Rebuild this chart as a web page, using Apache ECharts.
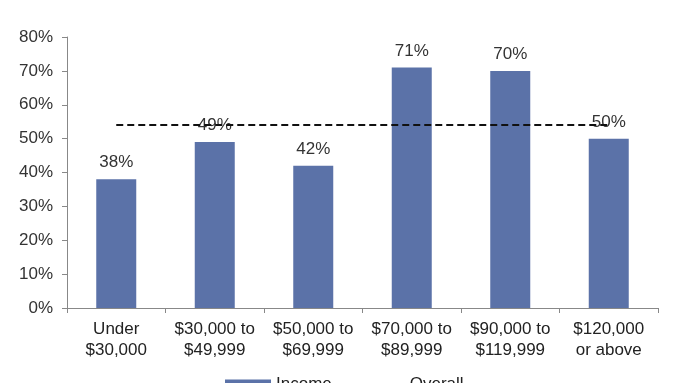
<!DOCTYPE html>
<html><head><meta charset="utf-8">
<script src="https://cdn.jsdelivr.net/npm/echarts@6/dist/echarts.min.js"></script>
<style>html,body{margin:0;padding:0;background:#fff}#c{width:681px;height:383px}</style>
</head><body><div id="c"></div>
<script>
const categories = ['Under\n$30,000', '$30,000 to\n$49,999', '$50,000 to\n$69,999', '$70,000 to\n$89,999', '$90,000 to\n$119,999', '$120,000\nor above'];
const incomeValues = [38, 49, 42, 71, 70, 50];
const overallValue = 54;
const overallValues = categories.map(() => overallValue);
const yTicks = [0, 10, 20, 30, 40, 50, 60, 70, 80];

const chart = echarts.init(document.getElementById('c'), null, {renderer: 'canvas'});
const font = 'Liberation Sans, Arial, sans-serif';
chart.setOption({
  animation: false,
  backgroundColor: '#fff',
  grid: {left: 67, right: 23, top: 37, bottom: 75},
  legend: {
    bottom: -15, left: 220, itemGap: 27, itemWidth: 46, itemHeight: 10,
    textStyle: {fontFamily: font, fontSize: 17, color: '#222'},
    data: [
      {name: 'Income', icon: 'rect'},
      {name: 'Overall', icon: 'rect', itemStyle: {opacity: 0}, lineStyle: {opacity: 0}}
    ]
  },
  xAxis: {
    type: 'category', data: categories,
    axisLine: {lineStyle: {color: '#888', width: 1}},
    axisTick: {show: true, length: 5, lineStyle: {color: '#888'}},
    axisLabel: {fontFamily: font, fontSize: 17, color: '#222', lineHeight: 21, margin: 11, interval: 0}
  },
  yAxis: {
    type: 'value', min: yTicks[0], max: yTicks[yTicks.length - 1], interval: 10,
    splitLine: {show: false},
    axisLine: {show: true, lineStyle: {color: '#888'}},
    axisTick: {show: true, length: 5, lineStyle: {color: '#888'}},
    axisLabel: {fontFamily: font, fontSize: 17, color: '#333', margin: 14, formatter: v => v + '%'}
  },
  series: [
    {
      name: 'Income', type: 'bar', data: incomeValues, barWidth: 40,
      itemStyle: {color: '#5b72a8'},
      label: {show: true, position: 'top', distance: 8, fontFamily: font, fontSize: 17, color: '#333', formatter: p => p.value + '%'},
      z: 2
    },
    {
      name: 'Overall', type: 'line', data: overallValues, symbol: 'none',
      lineStyle: {color: '#111', width: 2, type: [7, 4]},
      itemStyle: {color: '#111'},
      z: 3
    }
  ]
});
</script></body></html>
